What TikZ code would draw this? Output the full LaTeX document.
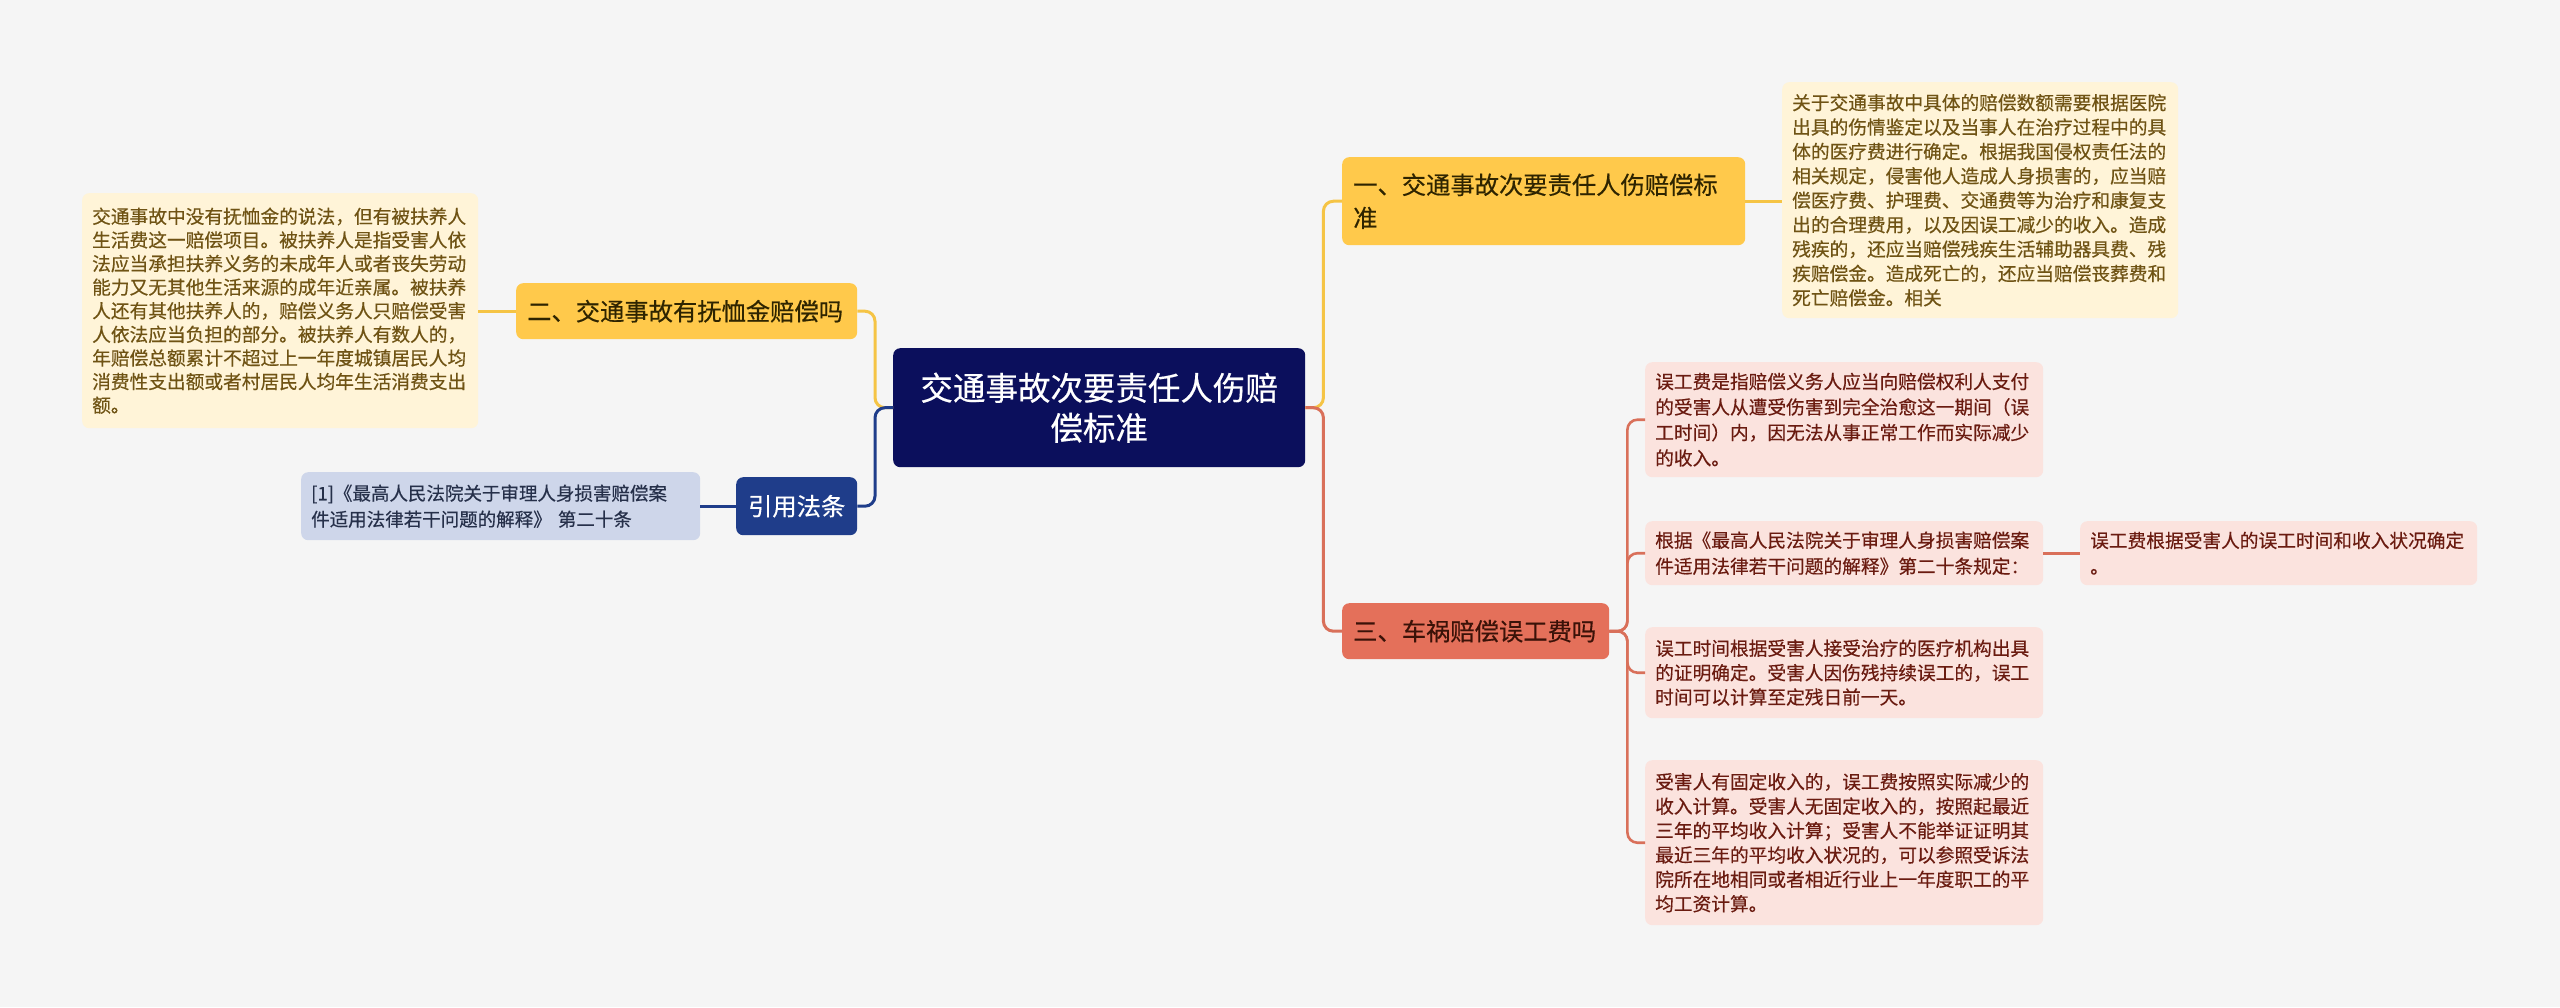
\documentclass[tikz,border=0pt]{standalone}
\usepackage{fontspec}
\setmainfont{Noto Sans CJK SC}[FakeBold=0.4]
\definecolor{bg}{HTML}{F5F5F5}
\definecolor{rootfill}{HTML}{0B0F5C}
\definecolor{yfill}{HTML}{FFC94B}
\definecolor{ytext}{HTML}{2E2400}
\definecolor{ylfill}{HTML}{FFF4D8}
\definecolor{yltext}{HTML}{6F5314}
\definecolor{yline}{HTML}{F5C445}
\definecolor{nfill}{HTML}{1F3D8A}
\definecolor{nline}{HTML}{1F3D8A}
\definecolor{nlfill}{HTML}{CED6EA}
\definecolor{nltext}{HTML}{26304A}
\definecolor{cfill}{HTML}{E4705A}
\definecolor{ctext}{HTML}{3A1208}
\definecolor{clfill}{HTML}{FBE3DE}
\definecolor{cltext}{HTML}{6A1B10}
\definecolor{cline}{HTML}{D9705A}
\begin{document}
\begin{tikzpicture}[x=1pt,y=-1pt,
  base/.style={anchor=north west, rounded corners=7pt, inner ysep=0pt, inner xsep=10pt, align=left},
  rootbox/.style={base, fill=rootfill, text=white, align=center, font=\fontsize{32.5pt}{40pt}\selectfont},
  ybranch/.style={base, fill=yfill, text=ytext, inner xsep=11pt, font=\fontsize{24.3pt}{33pt}\selectfont},
  nbranch/.style={base, fill=nfill, text=white, align=center, font=\fontsize{24.3pt}{33pt}\selectfont},
  cbranch/.style={base, fill=cfill, text=ctext, inner xsep=11pt, font=\fontsize{24.3pt}{33pt}\selectfont},
  yleaf/.style={base, fill=ylfill, text=yltext, font=\fontsize{18.7pt}{24.4pt}\selectfont},
  nleaf/.style={base, fill=nlfill, text=nltext, font=\fontsize{18.5pt}{26pt}\selectfont},
  cleaf/.style={base, fill=clfill, text=cltext, font=\fontsize{18.7pt}{24.4pt}\selectfont},
  conn/.style={line width=3pt, rounded corners=10pt},
  ycon/.style={conn, draw=yline},
  ncon/.style={conn, draw=nline},
  ccon/.style={conn, draw=cline, line width=2.6pt}
]
\useasboundingbox (0,0) rectangle (2560,1007);
\fill[bg] (0,0) rectangle (2560,1007);

% root
\node[rootbox, minimum width=412pt, minimum height=119pt] (root) at (893,348)
  {交通事故次要责任人伤赔\\偿标准};

% branch 1 and leaf
\node[ybranch, text width=381pt, minimum height=88pt] (b1) at (1342,157)
  {一、交通事故次要责任人伤赔偿标\\准};
\node[yleaf, text width=376pt, minimum height=236pt] (l1) at (1782,82)
  {关于交通事故中具体的赔偿数额需要根据医院\\出具的伤情鉴定以及当事人在治疗过程中的具\\体的医疗费进行确定。根据我国侵权责任法的\\相关规定，侵害他人造成人身损害的，应当赔\\偿医疗费、护理费、交通费等为治疗和康复支\\出的合理费用，以及因误工减少的收入。造成\\残疾的，还应当赔偿残疾生活辅助器具费、残\\疾赔偿金。造成死亡的，还应当赔偿丧葬费和\\死亡赔偿金。相关};

% branch 2 and leaf
\node[ybranch, text width=319pt, minimum height=56pt] (b2) at (516,283)
  {二、交通事故有抚恤金赔偿吗};
\node[yleaf, text width=376pt, minimum height=235pt, font=\fontsize{18.7pt}{23.6pt}\selectfont] (l2) at (82,193)
  {交通事故中没有抚恤金的说法，但有被扶养人\\生活费这一赔偿项目。被扶养人是指受害人依\\法应当承担扶养义务的未成年人或者丧失劳动\\能力又无其他生活来源的成年近亲属。被扶养\\人还有其他扶养人的，赔偿义务人只赔偿受害\\人依法应当负担的部分。被扶养人有数人的，\\年赔偿总额累计不超过上一年度城镇居民人均\\消费性支出额或者村居民人均年生活消费支出\\额。};

% branch 3 and leaf
\node[nbranch, minimum width=121pt, minimum height=58pt] (b3) at (736,477)
  {引用法条};
\node[nleaf, text width=379pt, minimum height=68pt] (l3) at (301,472)
  {[1]《最高人民法院关于审理人身损害赔偿案\\件适用法律若干问题的解释》 第二十条};

% branch 4 and leaves
\node[cbranch, text width=245pt, minimum height=56pt] (b4) at (1342,603)
  {三、车祸赔偿误工费吗};
\node[cleaf, text width=378pt, minimum height=115pt, font=\fontsize{18.7pt}{25.5pt}\selectfont] (l4a) at (1645,362)
  {误工费是指赔偿义务人应当向赔偿权利人支付\\的受害人从遭受伤害到完全治愈这一期间（误\\工时间）内，因无法从事正常工作而实际减少\\的收入。};
\node[cleaf, text width=378pt, minimum height=64pt, font=\fontsize{18.7pt}{26pt}\selectfont] (l4b) at (1645,521)
  {根据《最高人民法院关于审理人身损害赔偿案\\件适用法律若干问题的解释》第二十条规定：};
\node[cleaf, text width=377pt, minimum height=64pt, font=\fontsize{18.7pt}{26pt}\selectfont] (l4bc) at (2080,521)
  {误工费根据受害人的误工时间和收入状况确定\\。};
\node[cleaf, text width=378pt, minimum height=91pt] (l4c) at (1645,627)
  {误工时间根据受害人接受治疗的医疗机构出具\\的证明确定。受害人因伤残持续误工的，误工\\时间可以计算至定残日前一天。};
\node[cleaf, text width=378pt, minimum height=165pt] (l4d) at (1645,760)
  {受害人有固定收入的，误工费按照实际减少的\\收入计算。受害人无固定收入的，按照起最近\\三年的平均收入计算；受害人不能举证证明其\\最近三年的平均收入状况的，可以参照受诉法\\院所在地相同或者相近行业上一年度职工的平\\均工资计算。};

% connectors
\draw[ycon] (root.east) -- ++(18,0) |- (b1.west);
\draw[ccon, line width=3pt] (root.east) -- ++(18,0) |- (b4.west);
\draw[ycon] (root.west) -- ++(-18,0) |- (b2.east);
\draw[ncon] (root.west) -- ++(-18,0) |- (b3.east);
\draw[ycon] (b1.east) -- (l1.west |- b1.east);
\draw[ycon] (b2.west) -- (l2.east |- b2.west);
\draw[ncon] (b3.west) -- (l3.east |- b3.west);
\draw[ccon] (b4.east) -- ++(18,0) |- (l4a.west);
\draw[ccon] (b4.east) -- ++(18,0) |- (l4b.west);
\draw[ccon] (b4.east) -- ++(18,0) |- (l4c.west);
\draw[ccon] (b4.east) -- ++(18,0) |- (l4d.west);
\draw[ccon] (l4b.east) -- (l4bc.west);
\end{tikzpicture}
\end{document}
